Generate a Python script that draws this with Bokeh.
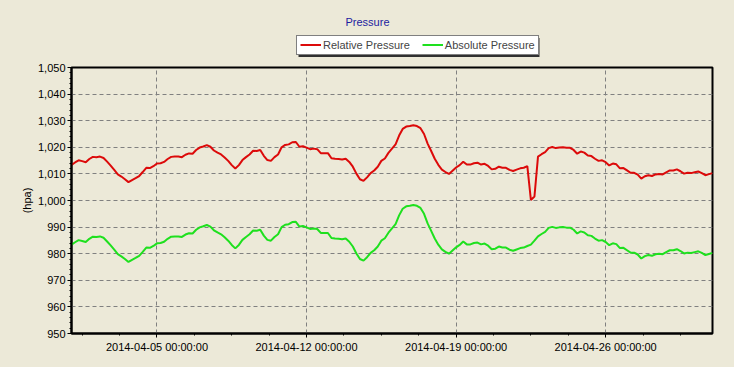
import pandas as pd
from bokeh.plotting import figure
from bokeh.layouts import column
from bokeh.models import (Legend, LegendItem, Label, FixedTicker, SingleIntervalTicker,
                          NumeralTickFormatter, DatetimeTickFormatter, Range1d, BoxAnnotation)
from bokeh.embed import file_html
from bokeh.resources import INLINE

# ---- data (readings every 4 hours from 2014-04-01 00:00) ----
start_time = "2014-04-01 00:00"
sample_step = "4h"

relative_pressure = [
    1013.4, 1014.3, 1015.1, 1014.8, 1014.4, 1015.6, 1016.4, 1016.3, 1016.5, 1016.0,
    1014.6, 1013.1, 1011.5, 1009.8, 1009.0, 1008.0, 1006.9, 1007.7, 1008.4, 1009.2,
    1010.7, 1012.3, 1012.2, 1012.9, 1013.9, 1014.0, 1014.5, 1015.6, 1016.4, 1016.5,
    1016.5, 1016.3, 1017.2, 1017.7, 1017.6, 1019.0, 1019.9, 1020.3, 1020.8, 1020.2,
    1018.8, 1018.0, 1017.3, 1016.2, 1014.9, 1013.3, 1012.0, 1013.3, 1015.2, 1016.3,
    1017.3, 1018.7, 1018.6, 1019.0, 1016.8, 1015.2, 1014.9, 1016.3, 1017.3, 1020.0,
    1020.9, 1021.1, 1021.9, 1022.0, 1020.2, 1020.4, 1019.9, 1019.3, 1019.5, 1019.3,
    1017.8, 1017.8, 1017.8, 1015.9, 1015.7, 1015.6, 1015.4, 1015.7, 1014.5, 1012.7,
    1010.1, 1008.0, 1007.4, 1008.7, 1010.3, 1011.3, 1012.7, 1014.9, 1015.8, 1017.9,
    1019.5, 1021.1, 1024.4, 1026.9, 1027.8, 1028.0, 1028.3, 1028.0, 1027.2, 1025.0,
    1021.4, 1018.6, 1015.7, 1013.4, 1011.6, 1010.7, 1010.0, 1011.2, 1012.4, 1013.3,
    1014.6, 1013.5, 1013.5, 1014.0, 1014.2, 1013.5, 1013.8, 1013.0, 1011.7, 1011.9,
    1012.7, 1012.3, 1012.3, 1011.5, 1011.1, 1011.6, 1012.1, 1012.3, 1012.9, 1000.2,
    1001.5, 1016.5, 1017.4, 1018.2, 1019.7, 1020.1, 1019.7, 1019.9, 1020.0, 1019.8,
    1019.8, 1019.0, 1017.6, 1018.4, 1018.0, 1016.9, 1016.7, 1015.7, 1014.9, 1015.1,
    1014.4, 1013.2, 1013.9, 1013.6, 1012.1, 1012.2, 1011.3, 1010.4, 1010.4, 1009.7,
    1008.2, 1009.1, 1009.5, 1009.2, 1009.8, 1010.0, 1009.8, 1010.6, 1011.3, 1011.3,
    1011.7, 1011.0, 1010.1, 1010.4, 1010.3, 1010.6, 1010.9, 1010.3, 1009.5, 1009.9,
    1010.3,
]

absolute_pressure = [
    983.4, 984.3, 985.1, 984.8, 984.4, 985.6, 986.4, 986.3, 986.5, 986.0,
    984.6, 983.1, 981.5, 979.8, 979.0, 978.0, 976.9, 977.7, 978.4, 979.2,
    980.7, 982.3, 982.2, 982.9, 983.9, 984.0, 984.5, 985.6, 986.4, 986.5,
    986.5, 986.3, 987.2, 987.7, 987.6, 989.0, 989.9, 990.3, 990.8, 990.2,
    988.8, 988.0, 987.3, 986.2, 984.9, 983.3, 982.0, 983.3, 985.2, 986.3,
    987.3, 988.7, 988.6, 989.0, 986.8, 985.2, 984.9, 986.3, 987.3, 990.0,
    990.9, 991.1, 991.9, 992.0, 990.2, 990.4, 989.9, 989.3, 989.5, 989.3,
    987.8, 987.8, 987.8, 985.9, 985.7, 985.6, 985.4, 985.7, 984.5, 982.7,
    980.1, 978.0, 977.4, 978.7, 980.3, 981.3, 982.7, 984.9, 985.8, 987.9,
    989.5, 991.1, 994.4, 996.9, 997.8, 998.0, 998.3, 998.0, 997.2, 995.0,
    991.4, 988.6, 985.7, 983.4, 981.6, 980.7, 980.0, 981.2, 982.4, 983.3,
    984.6, 983.5, 983.5, 984.0, 984.2, 983.5, 983.8, 983.0, 981.7, 981.9,
    982.7, 982.3, 982.3, 981.5, 981.1, 981.6, 982.1, 982.3, 982.9, 983.4,
    984.9, 986.5, 987.4, 988.2, 989.7, 990.1, 989.7, 989.9, 990.0, 989.8,
    989.8, 989.0, 987.6, 988.4, 988.0, 986.9, 986.7, 985.7, 984.9, 985.1,
    984.4, 983.2, 983.9, 983.6, 982.1, 982.2, 981.3, 980.4, 980.4, 979.7,
    978.2, 979.1, 979.5, 979.2, 979.8, 980.0, 979.8, 980.6, 981.3, 981.3,
    981.7, 981.0, 980.1, 980.4, 980.3, 980.6, 980.9, 980.3, 979.5, 979.9,
    980.3,
]

series_names = ["Relative Pressure", "Absolute Pressure"]
series_colors = ["#DC0A0A", "#1EE01E"]
x_range_limits = ["2014-04-01 00:00", "2014-05-01 00:00"]
x_major_ticks = ["2014-04-05", "2014-04-12", "2014-04-19", "2014-04-26"]
x_minor_first, x_minor_step = "2014-04-01 12:00", "42h"
y_range_limits = [950, 1050]
chart_title = "Pressure"
y_title = "(hpa)"

# ---- build ----
times = pd.date_range(start_time, periods=len(relative_pressure), freq=sample_step)

BG = "#ECE9D8"
FONT = "Liberation Sans"
W, TOP_H, MAIN_H = 734, 59, 308
BL, BR = 71, 22            # left / right borders shared by both strips
FW = W - BL - BR           # frame width

# --- header strip: title + legend (coordinates relative to the frame) ---
head = figure(width=W, height=TOP_H, output_backend="svg", toolbar_location=None,
              x_range=Range1d(0, FW), y_range=Range1d(0, TOP_H),
              x_axis_location=None, y_axis_location=None,
              min_border_left=BL, min_border_right=BR, min_border_top=0, min_border_bottom=0)
head.grid.visible = False
head.outline_line_color = None
head.background_fill_color = None
head.border_fill_color = None
head.styles = {"background-color": BG}

head.add_layout(Label(x=367 - BL, y=38, text=chart_title, text_font=FONT, text_font_size="11px",
                      text_color="#1C1CA0", text_align="center", text_baseline="middle"))

nan = float("nan")
proxies = [head.line(x=[nan], y=[nan], line_color=c, line_width=2) for c in series_colors]
LX = 296 - BL
head.add_layout(BoxAnnotation(left=LX + 2, right=LX + 243, bottom=2.5, top=21.5,
                              fill_color="#303030", fill_alpha=1.0, line_alpha=0))
legend = Legend(items=[LegendItem(label=n, renderers=[r]) for n, r in zip(series_names, proxies)],
                location=(LX, 4.5), orientation="horizontal",
                background_fill_color="white", background_fill_alpha=1.0,
                border_line_color="black", border_line_width=1,
                label_text_font=FONT, label_text_font_size="11px",
                glyph_width=21, glyph_height=9, label_height=9,
                label_standoff=2, spacing=12, padding=3, margin=0)
head.add_layout(legend, "center")

# --- main chart ---
p = figure(width=W, height=MAIN_H, x_axis_type="datetime",
           output_backend="svg", toolbar_location=None,
           x_range=Range1d(pd.Timestamp(x_range_limits[0]), pd.Timestamp(x_range_limits[1])),
           y_range=Range1d(*y_range_limits),
           min_border_left=BL, min_border_right=BR, min_border_top=8, min_border_bottom=34)
p.background_fill_color = BG
p.border_fill_color = BG
p.outline_line_color = "black"
p.outline_line_width = 2

p.line(times, relative_pressure, line_color=series_colors[0], line_width=2)
p.line(times, absolute_pressure, line_color=series_colors[1], line_width=2)

def ms(t):
    return pd.Timestamp(t).value // 10**6

minor = [ms(t) for t in pd.date_range(x_minor_first, x_range_limits[1], freq=x_minor_step)]
p.xaxis.ticker = FixedTicker(ticks=[ms(t) for t in x_major_ticks], minor_ticks=minor)
fmt = "%Y-%m-%d %H:%M:%S"
p.xaxis.formatter = DatetimeTickFormatter(days=fmt, months=fmt, hours=fmt, years=fmt)
p.yaxis.ticker = SingleIntervalTicker(interval=10, num_minor_ticks=5)
p.yaxis.formatter = NumeralTickFormatter(format="0,0")
p.yaxis.axis_label = y_title

for ax in (p.xaxis[0], p.yaxis[0]):
    ax.axis_line_width = 2
    ax.axis_line_color = "black"
    ax.major_tick_line_color = "black"
    ax.minor_tick_line_color = "black"
    ax.major_tick_in = 0
    ax.minor_tick_in = 0
    ax.major_tick_out = 4
    ax.minor_tick_out = 2
    ax.major_label_text_font = FONT
    ax.major_label_text_font_size = "11px"
    ax.major_label_text_color = "black"
    ax.axis_label_text_font = FONT
    ax.axis_label_text_font_size = "11px"
    ax.axis_label_text_font_style = "normal"
    ax.axis_label_text_color = "black"
p.yaxis.major_label_standoff = 2
p.yaxis.axis_label_standoff = 2
p.xaxis.major_label_standoff = 3

p.xgrid.grid_line_color = "#808080"
p.ygrid.grid_line_color = "#808080"
p.xgrid.grid_line_dash = "4 3"
p.ygrid.grid_line_dash = "4 3"

layout = column(head, p, spacing=0)
layout.styles = {"background-color": BG}
open("out.html", "w").write(file_html(layout, INLINE))
